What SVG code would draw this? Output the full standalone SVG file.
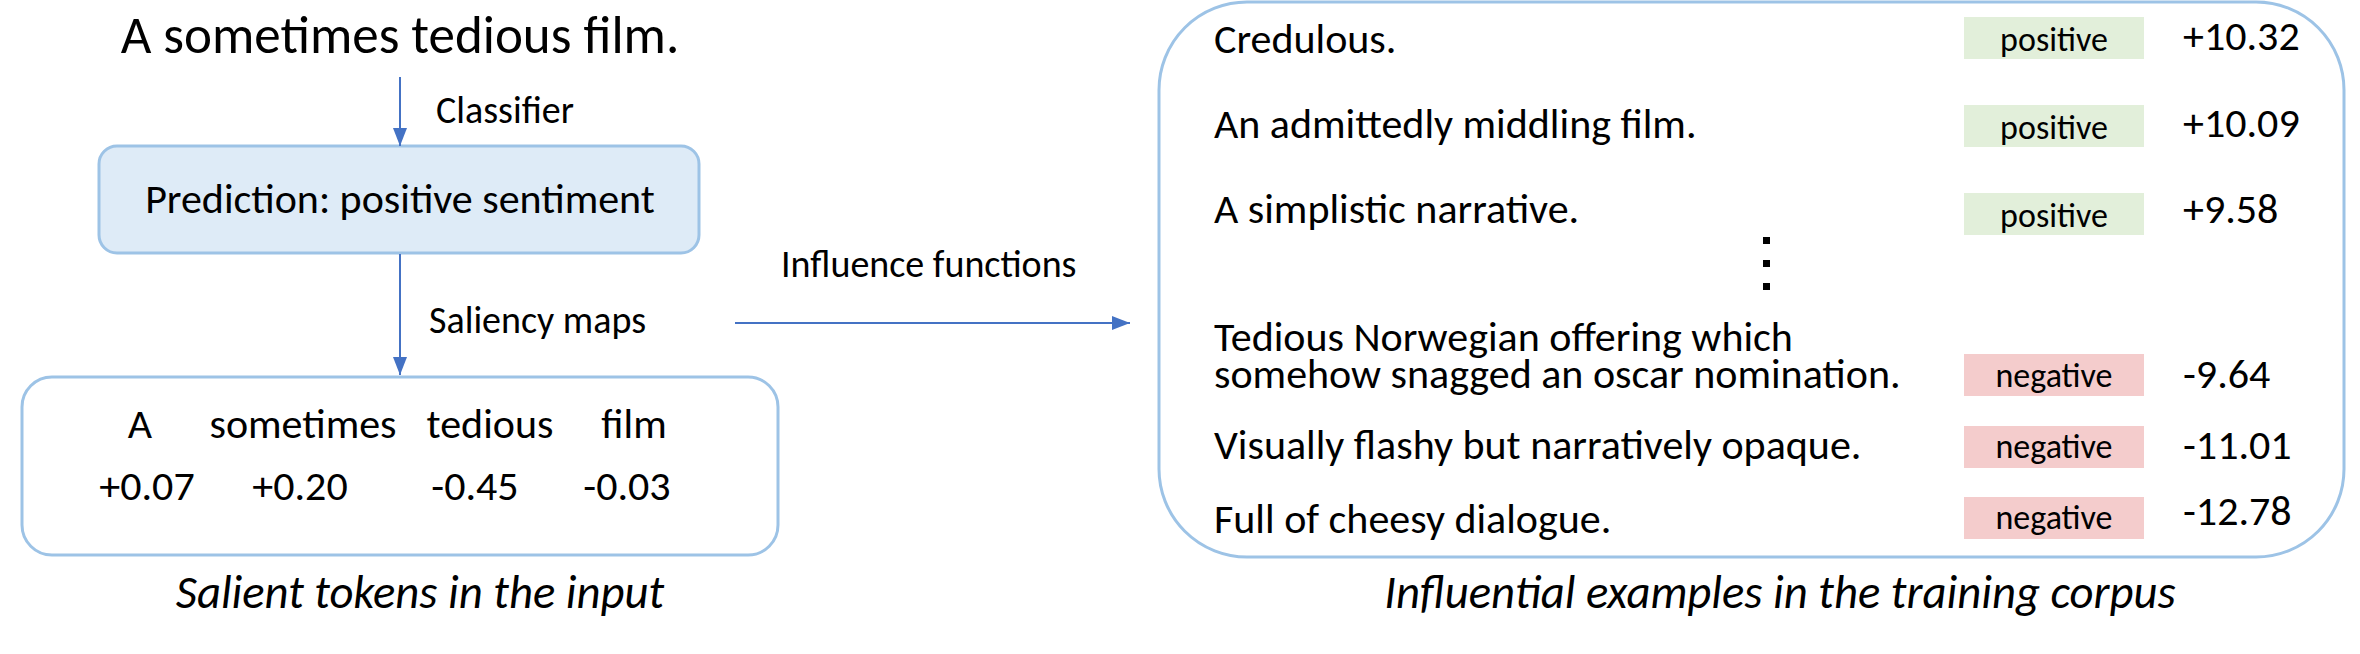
<svg xmlns="http://www.w3.org/2000/svg" width="2360" height="654" viewBox="0 0 2360 654">
<defs>
<style>
text{font-family:Carlito,Lato,"Liberation Sans",sans-serif;fill:#000}
.t53{font-size:53px}
.t42{font-size:42px}
.t38{font-size:38px}
.t34{font-size:34px}
.it{font-style:italic;font-size:46.7px}
.mid{text-anchor:middle}
.box{fill:#fff;stroke:#9dc3e6;stroke-width:3}
.pred{fill:#deebf7;stroke:#9dc3e6;stroke-width:3}
.pos{fill:#e2efda}
.neg{fill:#f4cccc}
.conn{stroke:#4472c4;stroke-width:2;fill:none;marker-end:url(#ah)}
</style>
<marker id="ah" markerUnits="userSpaceOnUse" markerWidth="18" markerHeight="14" refX="18" refY="7" orient="auto">
<path d="M0,0 L18,7 L0,14 z" fill="#4472c4"/>
</marker>
</defs>
<rect width="2360" height="654" fill="#fff"/>
<g id="input">
<text class="t53 mid" x="400" y="53">A sometimes tedious film.</text>
</g>
<g id="prediction">
<rect class="pred" x="99" y="146" width="600" height="107" rx="18"/>
<text class="t42 mid" x="400" y="213">Prediction: positive sentiment</text>
</g>
<g id="saliency">
<rect class="box" x="22" y="377" width="756" height="178" rx="30"/>
<text class="t42 mid" x="140" y="438">A</text>
<text class="t42 mid" x="303" y="438">sometimes</text>
<text class="t42 mid" x="490" y="438">tedious</text>
<text class="t42 mid" x="634" y="438">film</text>
<text class="t42 mid" x="147" y="500">+0.07</text>
<text class="t42 mid" x="300" y="500">+0.20</text>
<text class="t42 mid" x="475" y="500">-0.45</text>
<text class="t42 mid" x="627" y="500">-0.03</text>
<text class="it mid" x="420" y="608">Salient tokens in the input</text>
</g>
<g id="influential">
<rect class="box" x="1159" y="2" width="1185" height="555" rx="88"/>
<text class="t42" x="1214" y="53">Credulous.</text>
<text class="t42" x="1214" y="138">An admittedly middling film.</text>
<text class="t42" x="1214" y="223">A simplistic narrative.</text>
<text class="t42" x="1214" y="351">Tedious Norwegian offering which<tspan x="1214" y="388">somehow snagged an oscar nomination.</tspan></text>
<text class="t42" x="1214" y="459">Visually flashy but narratively opaque.</text>
<text class="t42" x="1214" y="533">Full of cheesy dialogue.</text>
<rect class="pos" x="1964" y="17" width="180" height="42"/>
<rect class="pos" x="1964" y="105" width="180" height="42"/>
<rect class="pos" x="1964" y="193" width="180" height="42"/>
<rect class="neg" x="1964" y="354" width="180" height="42"/>
<rect class="neg" x="1964" y="426" width="180" height="42"/>
<rect class="neg" x="1964" y="497" width="180" height="42"/>
<text class="t34 mid" x="2054" y="51">positive</text>
<text class="t34 mid" x="2054" y="139">positive</text>
<text class="t34 mid" x="2054" y="227">positive</text>
<text class="t34 mid" x="2054" y="387">negative</text>
<text class="t34 mid" x="2054" y="458">negative</text>
<text class="t34 mid" x="2054" y="529">negative</text>
<text class="t42" x="2183" y="50">+10.32</text>
<text class="t42" x="2183" y="137">+10.09</text>
<text class="t42" x="2183" y="223">+9.58</text>
<text class="t42" x="2183" y="388">-9.64</text>
<text class="t42" x="2183" y="459">-11.01</text>
<text class="t42" x="2183" y="525">-12.78</text>
<rect x="1763" y="237" width="7" height="7"/>
<rect x="1763" y="260" width="7" height="7"/>
<rect x="1763" y="283" width="7" height="7"/>
<text class="it mid" x="1780" y="608">Influential examples in the training corpus</text>
</g>
<g id="connectors">
<line class="conn" x1="400" y1="77" x2="400" y2="146"/>
<line class="conn" x1="400" y1="254" x2="400" y2="375"/>
<line class="conn" x1="735" y1="323" x2="1130" y2="323"/>
<text class="t38" x="436" y="123">Classifier</text>
<text class="t38" x="429" y="333">Saliency maps</text>
<text class="t38" x="781" y="277">Influence functions</text>
</g>
</svg>
